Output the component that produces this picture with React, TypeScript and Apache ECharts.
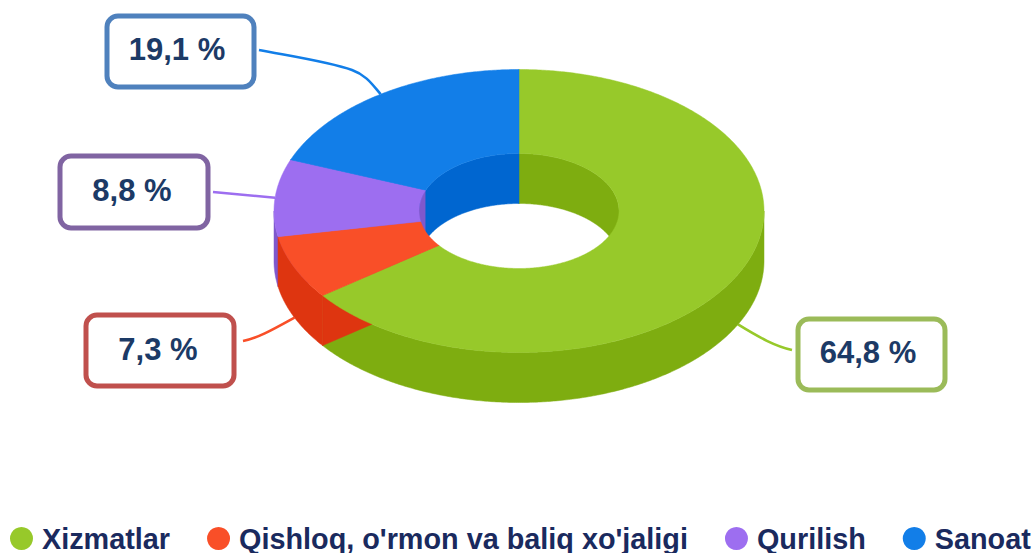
import React, { useEffect, useRef } from "react";
import * as echarts from "echarts";

const categories = ["Xizmatlar", "Qishloq, o'rmon va baliq xo'jaligi", "Qurilish", "Sanoat"];
const shares = [64.8, 7.3, 8.8, 19.1];
const topColors = ["#97C92A", "#F94F28", "#9D6EF0", "#127EE8"];
const sideColors = ["#7EAD10", "#DE3510", "#7F58CC", "#0066D0"];
const boxColors = ["#9BBB59", "#C0504D", "#8064A2", "#4F81BD"];

const CX = 519, CY = 211, RX = 245, RY = 141.5, IRX = 100, IRY = 57.5, DEPTH = 50;
const drawRank = [0, 3, 2, 1];
const boxes = [
  { x: 798, y: 319, w: 147, h: 71, tx: 868, ty: 352 },
  { x: 86, y: 315, w: 148, h: 71, tx: 158, ty: 349 },
  { x: 60, y: 156, w: 148, h: 72, tx: 132, ty: 190 },
  { x: 107, y: 16, w: 147, h: 71, tx: 177, ty: 49 },
];
const connectors = [
  (a: number[]) => `M792 350 C775 346 760 338 ${a[0]} ${a[1]}`,
  (a: number[]) => `M243 341 C258 338 272 330 ${a[0]} ${a[1]}`,
  (a: number[]) => `M213 192 L${a[0]} ${a[1]}`,
  (a: number[]) => `M259 50 C290 56 330 62 352 70 C366 75 372 84 ${a[0]} ${a[1]}`,
];

const pt = (deg: number, rx: number, ry: number, dy = 0) => {
  const t = (deg * Math.PI) / 180;
  return [CX + rx * Math.sin(t), CY - ry * Math.cos(t) + dy];
};
const arc = (a: number, b: number, rx: number, ry: number, dy = 0) => {
  const n = Math.max(2, Math.ceil(Math.abs(b - a) * 2));
  const out: number[][] = [];
  for (let i = 0; i <= n; i++) out.push(pt(a + ((b - a) * i) / n, rx, ry, dy));
  return out;
};
const band = (a: number, b: number, rx: number, ry: number) =>
  [...arc(a, b, rx, ry), ...arc(b, a, rx, ry, DEPTH)];

const spanOf = (i: number) => {
  const before = shares.slice(0, i).reduce((s, v) => s + v, 0);
  const total = shares.reduce((s, v) => s + v, 0);
  return [(before / total) * 360, ((before + shares[i]) / total) * 360];
};
const clipRanges = (a: number, b: number, ranges: number[][]) =>
  ranges
    .map(([l, h]) => [Math.max(a, l), Math.min(b, h)])
    .filter(([l, h]) => h > l);

const poly = (points: number[][], fill: string, z2: number) => ({
  type: "polygon",
  z2,
  shape: { points },
  style: { fill, stroke: fill, lineWidth: 0.5 },
});

const renderSlice = (i: number) => () => {
  const [a, b] = spanOf(i);
  const children: any[] = [];
  const base = 10 + drawRank[i] * 2;
  clipRanges(a, b, [[90, 270]]).forEach(([l, h]) =>
    children.push(poly(band(l, h, RX, RY), sideColors[i], base))
  );
  const o1 = pt(a, RX, RY), o2 = pt(a, RX, RY, DEPTH), n2 = pt(a, IRX, IRY, DEPTH), n1 = pt(a, IRX, IRY);
  children.push(poly([o1, o2, n2, n1], sideColors[i], base + 1));
  clipRanges(a, b, [[0, 90], [270, 360]]).forEach(([l, h]) =>
    children.push(poly(band(l, h, IRX, IRY), sideColors[i], 30))
  );
  children.push(poly([...arc(a, b, RX, RY), ...arc(b, a, IRX, IRY)], topColors[i], 40));

  const mid = (a + b) / 2;
  const front = mid > 90 && mid < 270;
  const anchor = pt(mid, RX, RY, front ? DEPTH : 0);
  children.push({
    type: "path",
    z2: 5,
    shape: { pathData: connectors[i](anchor) },
    style: { fill: "none", stroke: topColors[i], lineWidth: 2.6 },
  });
  const box = boxes[i];
  children.push({
    type: "rect",
    z2: 50,
    shape: { x: box.x, y: box.y, width: box.w, height: box.h, r: 11 },
    style: { fill: "#ffffff", stroke: boxColors[i], lineWidth: 5 },
  });
  children.push({
    type: "text",
    z2: 51,
    style: {
      x: box.tx,
      y: box.ty,
      text: `${shares[i].toFixed(1).replace(".", ",")} %`,
      align: "center",
      verticalAlign: "middle",
      fill: "#1C3A66",
      font: 'bold 31px "Liberation Sans", Arial, sans-serif',
    },
  });
  return { type: "group", children };
};

export default function App() {
  const ref = useRef<HTMLDivElement>(null);
  useEffect(() => {
    const chart = echarts.init(ref.current!, null, { renderer: "svg" });
    chart.setOption({
      animation: false,
      backgroundColor: "#ffffff",
      color: topColors,
      legend: {
        left: 10,
        top: 524,
        width: 1022,
        padding: 0,
        icon: "circle",
        itemWidth: 23,
        itemHeight: 23,
        itemGap: 37,
        selectedMode: false,
        data: categories,
        textStyle: {
          color: "#1A2A5E",
          fontFamily: '"Liberation Sans", Arial, sans-serif',
          fontWeight: "bold",
          fontSize: 28.8,
          padding: [0, 0, 0, 4],
        },
      },
      series: categories.map((name, i) => ({
        type: "custom",
        name,
        coordinateSystem: "none",
        silent: true,
        itemStyle: { color: topColors[i] },
        data: [shares[i]],
        renderItem: renderSlice(i),
      })),
    });
    return () => chart.dispose();
  }, []);
  return <div ref={ref} style={{ position: "fixed", left: 0, top: 0, width: 1032, height: 553 }} />;
}
